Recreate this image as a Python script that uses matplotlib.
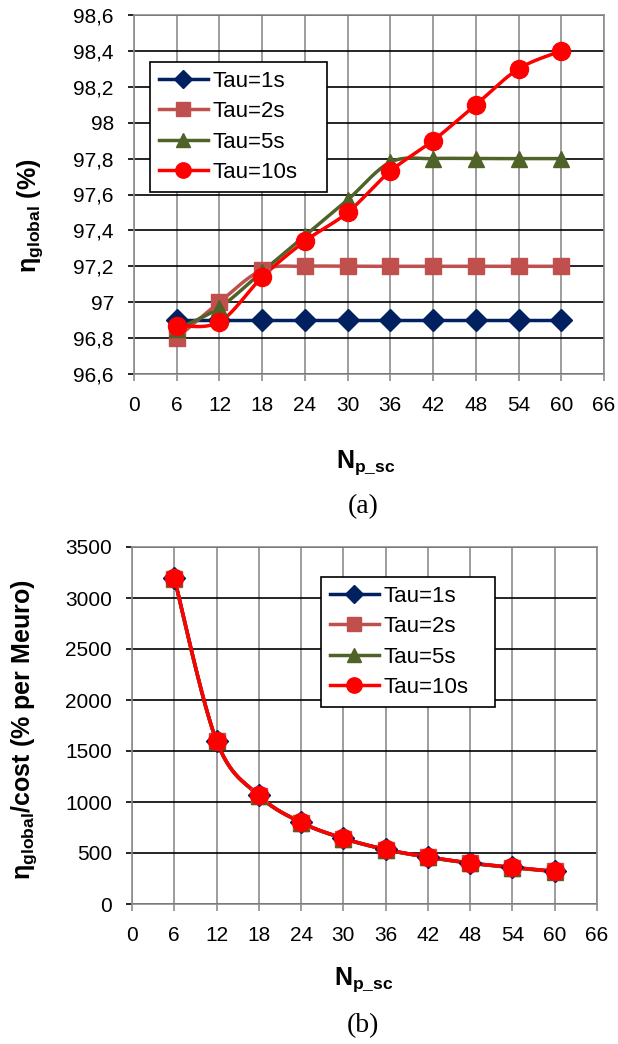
import numpy as np
import matplotlib
matplotlib.use("Agg")
import matplotlib.pyplot as plt
from matplotlib.lines import Line2D

plt.rcParams['font.family'] = ['Liberation Sans', 'DejaVu Sans']
plt.rcParams['mathtext.fontset'] = 'custom'
plt.rcParams['mathtext.rm'] = 'Liberation Sans'
plt.rcParams['mathtext.it'] = 'Liberation Sans:italic'
plt.rcParams['mathtext.bf'] = 'Liberation Sans:bold'

# ---- data ----
n_p_sc = [6, 12, 18, 24, 30, 36, 42, 48, 54, 60]
series_names = ['Tau=1s', 'Tau=2s', 'Tau=5s', 'Tau=10s']

eta_tau1 = [96.9, 96.9, 96.9, 96.9, 96.9, 96.9, 96.9, 96.9, 96.9, 96.9]
eta_tau2 = [96.8, 97.0, 97.18, 97.2, 97.2, 97.2, 97.2, 97.2, 97.2, 97.2]
eta_tau5 = [96.85, 96.97, 97.17, 97.37, 97.57, 97.78, 97.8, 97.8, 97.8, 97.8]
eta_tau10 = [96.87, 96.89, 97.14, 97.34, 97.5, 97.73, 97.9, 98.1, 98.3, 98.4]

ratio_tau1 = [3199, 1600, 1065, 800, 644, 535, 461, 402, 359, 320]
ratio_tau2 = [3190, 1598, 1063, 799, 642, 534, 459, 401, 357, 319]
ratio_tau5 = [3192, 1596, 1062, 798, 641, 533, 458, 400, 356, 318]
ratio_tau10 = [3200, 1600, 1065, 800, 645, 535, 462, 402, 360, 320]

top_yticks = [96.6, 96.8, 97.0, 97.2, 97.4, 97.6, 97.8, 98.0, 98.2, 98.4, 98.6]
top_ytick_labels = ['96,6', '96,8', '97', '97,2', '97,4', '97,6', '97,8', '98', '98,2', '98,4', '98,6']
bottom_yticks = [0, 500, 1000, 1500, 2000, 2500, 3000, 3500]
xticks = [0, 6, 12, 18, 24, 30, 36, 42, 48, 54, 60, 66]

colors = ['#002060', '#C0504D', '#4F6228', '#FF0000']
markers = ['D', 's', '^', 'o']
msizes = [11, 11.5, 12, 13]

W, H = 618, 1044
fig = plt.figure(figsize=(W / 100, H / 100), dpi=100)


def px_axes(l, t, r, b):
    return fig.add_axes([l / W, 1 - b / H, (r - l) / W, (b - t) / H])


def smooth(x, y, n=30):
    """Bezier smoothing through the points (spreadsheet-style smoothed line)."""
    x = np.asarray(x, float)
    y = np.asarray(y, float)
    px = np.concatenate([[x[0]], x, [x[-1]]])
    py = np.concatenate([[y[0]], y, [y[-1]]])
    xs, ys = [], []
    t = np.linspace(0, 1, n)
    for i in range(1, len(px) - 2):
        p0 = np.array([px[i], py[i]])
        p3 = np.array([px[i + 1], py[i + 1]])
        c1 = p0 + (np.array([px[i + 1], py[i + 1]]) - np.array([px[i - 1], py[i - 1]])) / 6
        c2 = p3 - (np.array([px[i + 2], py[i + 2]]) - np.array([px[i], py[i]])) / 6
        b = ((1 - t) ** 3)[:, None] * p0 + (3 * (1 - t) ** 2 * t)[:, None] * c1 \
            + (3 * (1 - t) * t ** 2)[:, None] * c2 + (t ** 3)[:, None] * p3
        xs.append(b[:, 0])
        ys.append(b[:, 1])
    return np.concatenate(xs), np.concatenate(ys)


def style_axes(ax, yticks, ylabels, ylim):
    ax.set_xlim(0, 66)
    ax.set_ylim(*ylim)
    ax.set_xticks(xticks)
    ax.set_yticks(yticks)
    ax.set_yticklabels(ylabels)
    for y in yticks:
        ax.axhline(y, color='black', lw=1.2, zorder=1)
    for x in xticks:
        ax.axvline(x, color='#8C8C8C', lw=1.2, zorder=0.9)
    for s in ax.spines.values():
        s.set_color('#8C8C8C')
        s.set_linewidth(1.2)
    ax.tick_params(axis='y', direction='out', length=4.5, width=1.2, color='black',
                   labelsize=15, pad=10)
    ax.tick_params(axis='x', direction='out', length=5, width=1.2, color='#8C8C8C',
                   labelsize=15, pad=11)


def draw_series(ax, ys_list):
    for ys, c, m, ms in zip(ys_list, colors, markers, msizes):
        sx, sy = smooth(n_p_sc, ys)
        ax.plot(sx, sy, color=c, lw=2.5, zorder=3, solid_capstyle='round')
        ax.plot(n_p_sc, ys, ls='none', marker=m, ms=ms, color=c, mec=c, zorder=4)


def add_legend(ax, l, t, r, b):
    handles = [Line2D([], [], color=c, lw=2.5, marker=m, ms=ms * 0.85, mec=c)
               for c, m, ms in zip(colors, markers, msizes)]
    leg = ax.legend(handles, series_names, loc='upper left',
                    bbox_to_anchor=(l / W, 1 - b / H, (r - l) / W, (b - t) / H),
                    bbox_transform=fig.transFigure, mode='expand',
                    fontsize=16, frameon=True, fancybox=False, framealpha=1,
                    edgecolor='black', handlelength=2.2, handletextpad=0.2,
                    borderpad=0.4, labelspacing=0.42, borderaxespad=0)
    leg.get_frame().set_linewidth(1.2)
    leg.set_zorder(10)


# ---- (a) global efficiency ----
ax1 = px_axes(134, 15, 604, 374)
style_axes(ax1, top_yticks, top_ytick_labels, (96.6, 98.6))
draw_series(ax1, [eta_tau1, eta_tau2, eta_tau5, eta_tau10])
add_legend(ax1, 150, 62, 327, 193)

fig.text(30 / W, 1 - 216 / H, r'$\mathbf{\eta_{global}}$ (%)', rotation=90,
         ha='center', va='center', fontsize=18, fontweight='bold')
fig.text(366 / W, 1 - 463 / H, r'$\mathbf{N_{p\_sc}}$', ha='center', va='center',
         fontsize=18)
fig.text(363 / W, 1 - 507 / H, '(a)', ha='center', va='center', fontsize=20,
         family='Liberation Serif')

# ---- (b) efficiency per cost ----
ax2 = px_axes(132, 547, 597, 904)
style_axes(ax2, bottom_yticks, [str(v) for v in bottom_yticks], (0, 3500))
draw_series(ax2, [ratio_tau1, ratio_tau2, ratio_tau5, ratio_tau10])
add_legend(ax2, 321, 577, 495, 706)

fig.text(24 / W, 1 - 730 / H, r'$\mathbf{\eta_{global}}$/cost (% per Meuro)', rotation=90,
         ha='center', va='center', fontsize=18, fontweight='bold')
fig.text(364 / W, 1 - 980 / H, r'$\mathbf{N_{p\_sc}}$', ha='center', va='center',
         fontsize=18)
fig.text(363 / W, 1 - 1026 / H, '(b)', ha='center', va='center', fontsize=20,
         family='Liberation Serif')

fig.savefig('out.png', dpi=100)
